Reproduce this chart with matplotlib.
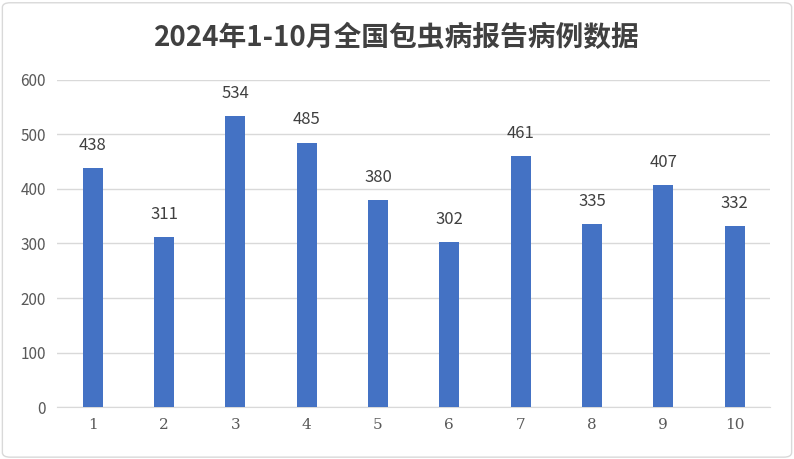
import matplotlib
matplotlib.use("Agg")
import matplotlib.pyplot as plt
from matplotlib.patches import FancyBboxPatch

months = [1, 2, 3, 4, 5, 6, 7, 8, 9, 10]
cases = [438, 311, 534, 485, 380, 302, 461, 335, 407, 332]
yticks = [0, 100, 200, 300, 400, 500, 600]
title = "2024年1-10月全国包虫病报告病例数据"

plt.rcParams["font.family"] = ["Noto Sans CJK SC", "DejaVu Sans"]
fig = plt.figure(figsize=(7.94, 4.59), dpi=100)
fig.patches.append(FancyBboxPatch((0.003, 0.004), 0.994, 0.99, boxstyle="round,pad=0,rounding_size=0.01",
                                  transform=fig.transFigure, fill=False, edgecolor="#d9d9d9", lw=1))
ax = fig.add_axes([0.072, 0.113, 0.898, 0.713])
bars = ax.bar(months, cases, width=0.28, color="#4472C4", zorder=3)
for x, v in zip(months, cases):
    ax.text(x, v + 26, str(v), ha="center", va="bottom", fontsize=12, color="#404040")
ax.set_xlim(0.5, 10.5)
ax.set_ylim(0, 600)
ax.set_yticks(yticks)
ax.set_xticks(months)
ax.set_xticklabels([str(m) for m in months], fontfamily="DejaVu Serif")
ax.grid(axis="y", color="#d9d9d9", lw=1, zorder=0)
for s in ["top", "right", "left"]:
    ax.spines[s].set_visible(False)
ax.spines["bottom"].set_color("#d9d9d9")
ax.tick_params(length=0, labelsize=11, colors="#595959", pad=8)
fig.text(0.5, 0.918, title, ha="center", va="center", fontsize=20, fontweight="bold", color="#404040")
fig.savefig("out.png", dpi=100)
